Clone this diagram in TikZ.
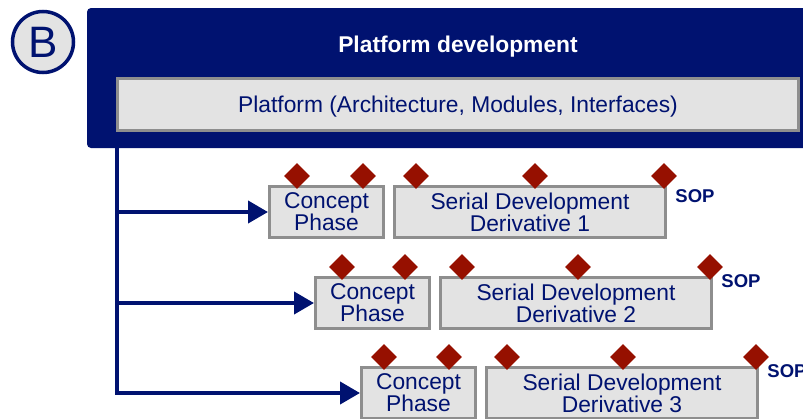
\documentclass[tikz,border=0pt]{standalone}
\usepackage{fontspec}
\setmainfont{Liberation Sans}
\usetikzlibrary{shapes.geometric, arrows.meta, positioning}
\definecolor{pnavy}{RGB}{0, 18, 112}
\definecolor{boxgray}{RGB}{142, 142, 142}
\definecolor{boxfill}{RGB}{227, 227, 227}
\definecolor{msred}{RGB}{150, 16, 0}

\begin{document}
\begin{tikzpicture}[x=1pt, y=-1pt, every node/.style={font=\fontsize{22.8}{22}\selectfont}, align=center]
  % Styles
  \tikzstyle{phase} = [rectangle, draw=boxgray, line width=3pt, fill=boxfill, text=pnavy, minimum height=51pt, inner sep=0pt, align=center]
  \tikzstyle{milestone} = [diamond, fill=msred, minimum size=26pt, inner sep=0pt]
  \tikzstyle{sop} = [text=pnavy, font=\fontsize{18.5}{18}\selectfont\bfseries]
  \tikzstyle{flow} = [line width=4pt, pnavy, -{Triangle[length=20pt, width=22pt]}]

  \useasboundingbox (0,0) rectangle (803,418);
  \clip (0,0) rectangle (803,418);

  % Header
  \node (tag) [circle, draw=pnavy, line width=3.5pt, fill=boxfill, minimum size=61pt, inner sep=0pt, text=pnavy, font=\fontsize{44}{44}\selectfont] at (43,42) {B};
  \node (pdev) [rectangle, rounded corners=4pt, fill=pnavy, minimum width=742pt, minimum height=140pt] at (458,78) {};
  \node (title) [text=white, font=\fontsize{22.8}{22}\selectfont\bfseries] at (458,47) {Platform development};
  \node (plat) [phase, minimum width=681pt, minimum height=52pt, text height=22pt, text depth=4.8pt] at (458,104) {Platform (Architecture, Modules, Interfaces)};

  % Derivative 1
  \node (cp1) [phase, minimum width=114pt] at (326.5,212) {Concept\\Phase};
  \node (sd1) [phase, minimum width=271pt, right=8pt of cp1] {Serial Development\\Derivative 1};
  \node (sop1) [sop] at (695,196) {SOP};

  % Derivative 2
  \node (cp2) [phase, minimum width=114pt] at (372.5,303) {Concept\\Phase};
  \node (sd2) [phase, minimum width=271pt, right=8pt of cp2] {Serial Development\\Derivative 2};
  \node (sop2) [sop] at (741,281) {SOP};

  % Derivative 3
  \node (cp3) [phase, minimum width=114pt] at (418.5,393) {Concept\\Phase};
  \node (sd3) [phase, minimum width=271pt, right=8pt of cp3] {Serial Development\\Derivative 3};
  \node (sop3) [sop] at (787,371) {SOP};

  % Milestones
  \node (m11) [milestone] at (297,176) {};
  \node (m12) [milestone] at (363,176) {};
  \node (m13) [milestone] at (416,176) {};
  \node (m14) [milestone] at (535,176) {};
  \node (m15) [milestone] at (664,176) {};
  \node (m21) [milestone] at (342,267) {};
  \node (m22) [milestone] at (405,267) {};
  \node (m23) [milestone] at (462,267) {};
  \node (m24) [milestone] at (578,267) {};
  \node (m25) [milestone] at (710,267) {};
  \node (m31) [milestone] at (384,357) {};
  \node (m32) [milestone] at (449,357) {};
  \node (m33) [milestone] at (507,357) {};
  \node (m34) [milestone] at (623,357) {};
  \node (m35) [milestone] at (756,357) {};

  % Connections
  \coordinate (j1) at (117,212);
  \coordinate (j2) at (117,303);
  \coordinate (j3) at (117,393);
  \draw [flow] (pdev.south -| j1) -- (j3) -- (cp3.west);
  \draw [flow] (j1) -- (cp1.west);
  \draw [flow] (j2) -- (cp2.west);
\end{tikzpicture}
\end{document}
